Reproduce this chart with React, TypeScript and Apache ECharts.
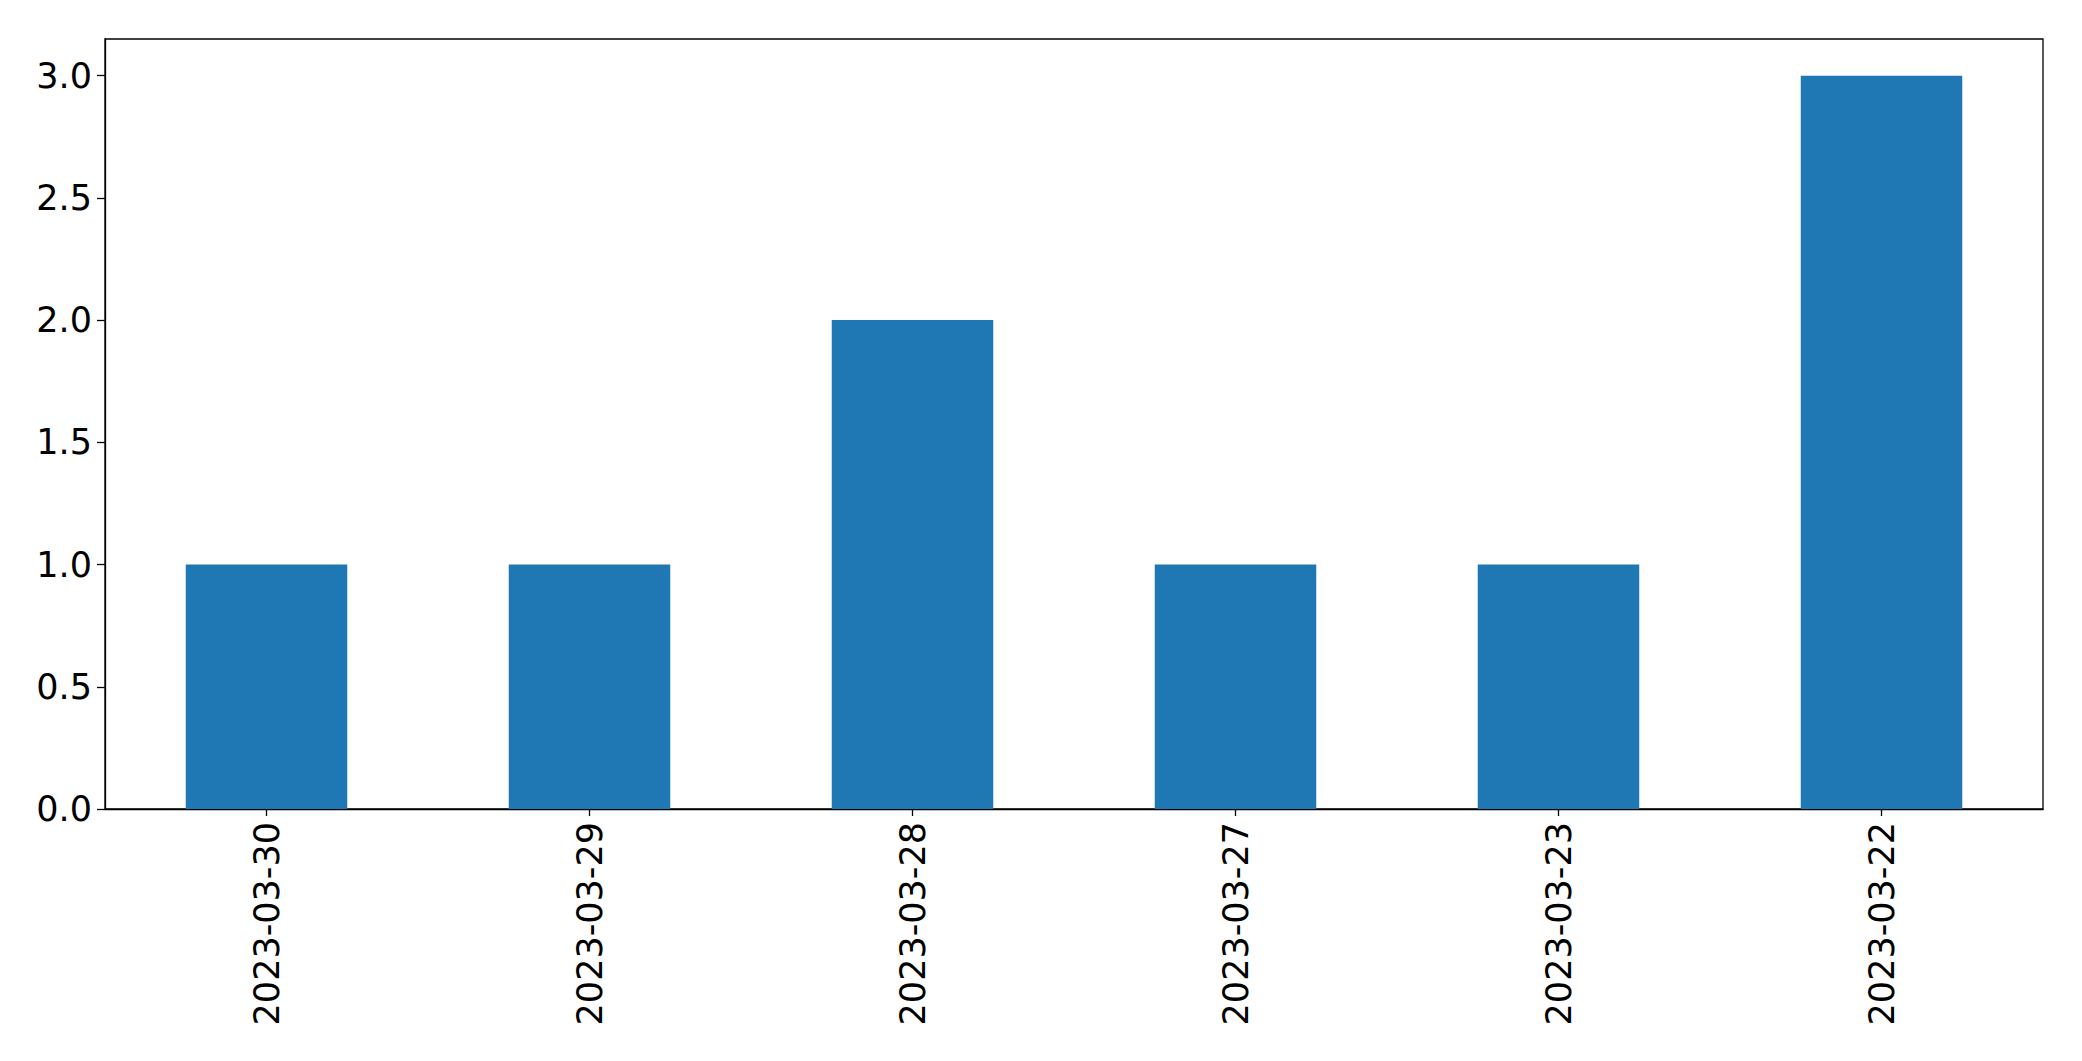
import React, { useEffect, useRef } from "react";
import * as echarts from "echarts";

const categories = ["2023-03-30", "2023-03-29", "2023-03-28", "2023-03-27", "2023-03-23", "2023-03-22"];
const counts = [1, 1, 2, 1, 1, 3];
const yTicks = [0, 0.5, 1.0, 1.5, 2.0, 2.5, 3.0];

export default function App() {
  const ref = useRef<HTMLDivElement>(null);
  useEffect(() => {
    if (!ref.current) return;
    const chart = echarts.init(ref.current, undefined, { renderer: "svg" });
    const font = "DejaVu Sans";
    chart.setOption({
      animation: false,
      backgroundColor: "#ffffff",
      grid: {
        left: 105,
        right: 39,
        top: 39,
        bottom: 252,
        show: true,
        borderColor: "#000000",
        borderWidth: 1.3,
        backgroundColor: "transparent",
      },
      xAxis: {
        type: "category",
        data: categories,
        boundaryGap: true,
        axisLine: { show: true, lineStyle: { color: "#000", width: 1.3 } },
        axisTick: { show: true, alignWithLabel: true, length: 7, lineStyle: { color: "#000", width: 1.3 } },
        axisLabel: {
          rotate: 90,
          margin: 13,
          color: "#000",
          fontFamily: font,
          fontSize: 35,
          interval: 0,
        },
        splitLine: { show: false },
      },
      yAxis: {
        type: "value",
        min: 0,
        max: 3.15,
        interval: 0.5,
        axisLine: { show: true, lineStyle: { color: "#000", width: 1.3 } },
        axisTick: { show: true, length: 8, customValues: yTicks, lineStyle: { color: "#000", width: 1.3 } },
        axisLabel: {
          margin: 13,
          color: "#000",
          fontFamily: font,
          fontSize: 35,
          customValues: yTicks,
          formatter: (v: number) => v.toFixed(1),
        },
        splitLine: { show: false },
      },
      series: [
        {
          type: "bar",
          data: counts,
          barWidth: "50%",
          itemStyle: { color: "#1f77b4" },
        },
      ],
    });
    return () => chart.dispose();
  }, []);
  return (
    <div
      ref={ref}
      style={{ position: "fixed", left: 0, top: 0, width: 2082, height: 1061 }}
    />
  );
}
